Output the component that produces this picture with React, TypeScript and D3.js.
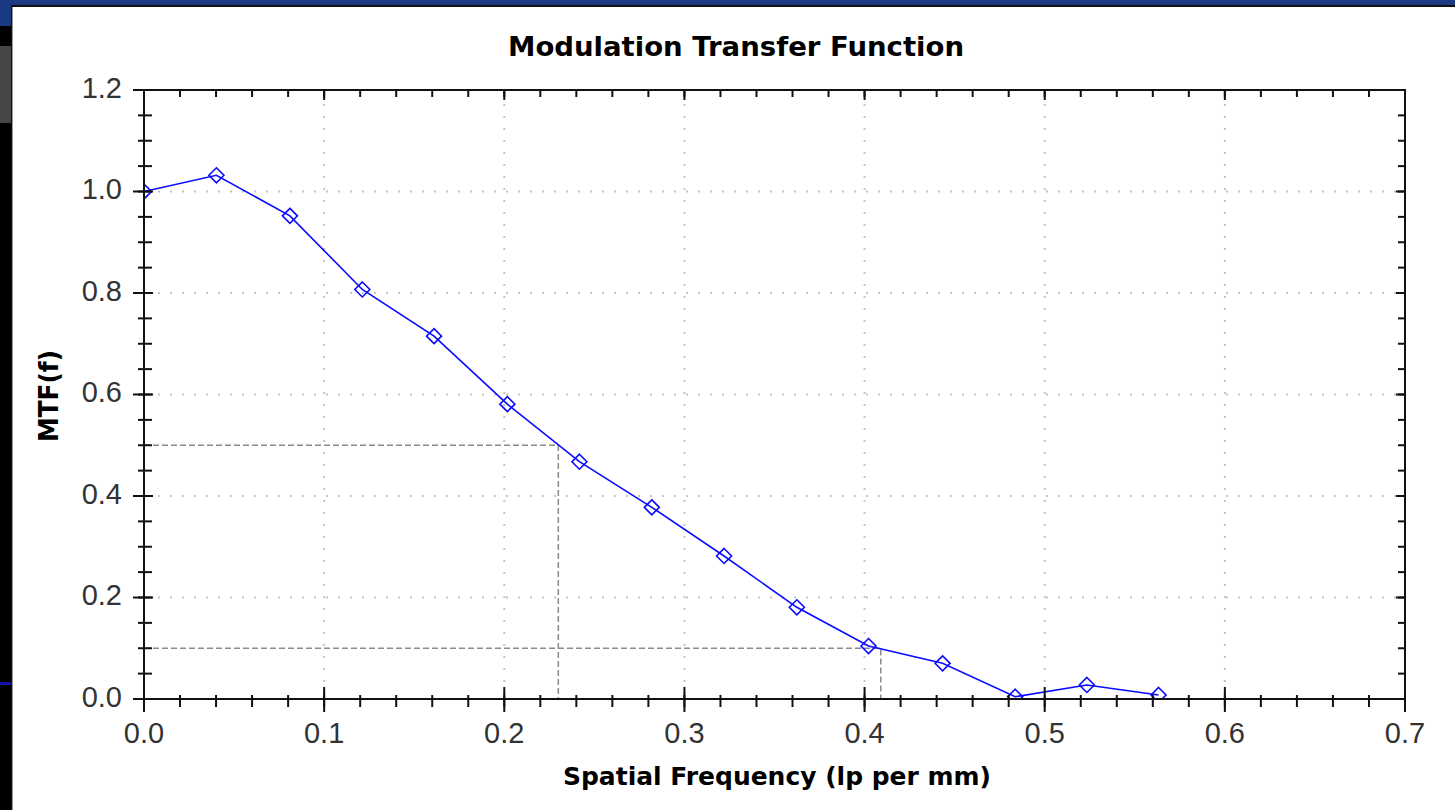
import React, { useEffect, useRef } from "react";
import * as d3 from "d3";

// ---- data ----
const freq = [0, 0.0402, 0.081, 0.1212, 0.161, 0.2017, 0.2417, 0.2819, 0.322, 0.3624, 0.4022, 0.4433, 0.4836, 0.5234, 0.5632];
const mtf = [1.0, 1.032, 0.952, 0.807, 0.715, 0.581, 0.4676, 0.3777, 0.2818, 0.1807, 0.1044, 0.0703, 0.0045, 0.0276, 0.0079];

const xTicks = [0, 0.1, 0.2, 0.3, 0.4, 0.5, 0.6, 0.7];
const xTickLabels = ["0.0", "0.1", "0.2", "0.3", "0.4", "0.5", "0.6", "0.7"];
const yTicks = [0, 0.2, 0.4, 0.6, 0.8, 1.0, 1.2];
const yTickLabels = ["0.0", "0.2", "0.4", "0.6", "0.8", "1.0", "1.2"];

const thresholds = [0.5, 0.1];
const crossFreq = [0.23, 0.409];

const title = "Modulation Transfer Function";
const xLabel = "Spatial Frequency (lp per mm)";
const yLabel = "MTF(f)";

const W = 1455;
const H = 810;

export default function App() {
  const ref = useRef<SVGSVGElement>(null);

  useEffect(() => {
    const svg = d3.select(ref.current);
    svg.selectAll("*").remove();

    const x = d3.scaleLinear().domain([0, 0.7]).range([144, 1405]);
    const y = d3.scaleLinear().domain([0, 1.2]).range([699, 90]);
    const [x0, x1] = x.range();
    const [y0, y1] = y.range(); // y0 bottom, y1 top

    // ---- frame / background ----
    svg.append("rect").attr("x", 0).attr("y", 0).attr("width", W).attr("height", H).attr("fill", "#ffffff");
    svg.append("rect").attr("x", 0).attr("y", 0).attr("width", W).attr("height", 5).attr("fill", "#1b3a84");
    svg.append("rect").attr("x", 11).attr("y", 5).attr("width", W - 11).attr("height", 2).attr("fill", "#111");
    svg.append("rect").attr("x", 0).attr("y", 0).attr("width", 11).attr("height", 26).attr("fill", "#1b3a84");
    svg.append("rect").attr("x", 0).attr("y", 26).attr("width", 11).attr("height", H - 26).attr("fill", "#000");
    svg.append("rect").attr("x", 0).attr("y", 46).attr("width", 11).attr("height", 77).attr("fill", "#464646");
    svg.append("rect").attr("x", 0).attr("y", 682).attr("width", 11).attr("height", 3).attr("fill", "#1212a6");
    svg.append("rect").attr("x", 11).attr("y", 5).attr("width", 1).attr("height", H - 5).attr("fill", "#111");
    svg.append("rect").attr("x", 12).attr("y", 7).attr("width", 1).attr("height", H - 7).attr("fill", "#9a9a9a");

    // ---- dotted grid ----
    const grid = svg.append("g").attr("stroke", "#c4c4c4").attr("stroke-width", 2).attr("stroke-dasharray", "2,10");
    xTicks.filter((t) => t > 0 && t < 0.7).forEach((t) => {
      grid.append("line").attr("x1", x(t)).attr("x2", x(t)).attr("y1", y1 + 2).attr("y2", y0);
    });
    yTicks.filter((t) => t > 0 && t < 1.2).forEach((t) => {
      grid.append("line").attr("x1", x0 + 2).attr("x2", x1).attr("y1", y(t)).attr("y2", y(t));
    });

    // ---- dashed threshold guides ----
    const guides = svg.append("g").attr("stroke", "#8a8a8a").attr("stroke-width", 1.5).attr("stroke-dasharray", "6,3").attr("fill", "none");
    thresholds.forEach((th, i) => {
      const fx = crossFreq[i];
      guides.append("path").attr("d", `M${x0},${y(th)}H${x(fx)}V${y0}`);
    });

    // ---- series ----
    const defs = svg.append("defs");
    defs.append("clipPath").attr("id", "plotClip")
      .append("rect").attr("x", x0).attr("y", y1).attr("width", x1 - x0).attr("height", y0 - y1);

    const series = svg.append("g").attr("clip-path", "url(#plotClip)");
    const pts = freq.map((f, i) => [f, mtf[i]] as [number, number]);
    const line = d3.line<[number, number]>().x((d) => x(d[0])).y((d) => y(d[1]));
    series.append("path").attr("d", line(pts) as string).attr("fill", "none").attr("stroke", "#0a0aff").attr("stroke-width", 1.6);
    series.selectAll("path.mk").data(pts).enter().append("path")
      .attr("class", "mk")
      .attr("transform", (d) => `translate(${x(d[0])},${y(d[1])})`)
      .attr("d", "M0,-7.5L7.5,0L0,7.5L-7.5,0Z")
      .attr("fill", "none")
      .attr("stroke", "#0a0aff")
      .attr("stroke-width", 1.6);

    // ---- plot box ----
    svg.append("rect").attr("x", x0).attr("y", y1).attr("width", x1 - x0).attr("height", y0 - y1)
      .attr("fill", "none").attr("stroke", "#111").attr("stroke-width", 2);

    // ---- ticks ----
    const tk = svg.append("g").attr("stroke", "#111").attr("stroke-width", 2);
    const xMinor = d3.range(0, 0.7001, 0.02);
    const yMinor = d3.range(0, 1.2001, 0.05);
    xMinor.forEach((t) => {
      tk.append("line").attr("x1", x(t)).attr("x2", x(t)).attr("y1", y0 - 4).attr("y2", y0 + 8);
      tk.append("line").attr("x1", x(t)).attr("x2", x(t)).attr("y1", y1).attr("y2", y1 + 7);
    });
    xTicks.forEach((t) => {
      tk.append("line").attr("x1", x(t)).attr("x2", x(t)).attr("y1", y0 - 12).attr("y2", y0 + 13);
      tk.append("line").attr("x1", x(t)).attr("x2", x(t)).attr("y1", y1).attr("y2", y1 + 10);
    });
    yMinor.forEach((t) => {
      tk.append("line").attr("x1", x0 - 6).attr("x2", x0 + 8).attr("y1", y(t)).attr("y2", y(t));
      tk.append("line").attr("x1", x1 - 7).attr("x2", x1).attr("y1", y(t)).attr("y2", y(t));
    });
    yTicks.forEach((t) => {
      tk.append("line").attr("x1", x0 - 11).attr("x2", x0 + 9).attr("y1", y(t)).attr("y2", y(t));
      tk.append("line").attr("x1", x1 - 9).attr("x2", x1).attr("y1", y(t)).attr("y2", y(t));
    });

    // ---- tick labels ----
    const tickFont = "'Liberation Sans', Arial, sans-serif";
    const boldFont = "'DejaVu Sans', Verdana, sans-serif";
    xTicks.forEach((t, i) => {
      svg.append("text").attr("x", x(t)).attr("y", 743).attr("text-anchor", "middle")
        .attr("font-family", tickFont).attr("font-size", 29).attr("fill", "#333")
        .text(xTickLabels[i]);
    });
    yTicks.forEach((t, i) => {
      svg.append("text").attr("x", 122).attr("y", y(t) + 7.5).attr("text-anchor", "end")
        .attr("font-family", tickFont).attr("font-size", 29).attr("fill", "#333")
        .text(yTickLabels[i]);
    });

    // ---- titles ----
    svg.append("text").attr("x", 508).attr("y", 56)
      .attr("font-family", boldFont).attr("font-weight", "bold").attr("font-size", 26.5).attr("fill", "#000")
      .attr("textLength", 456).attr("lengthAdjust", "spacingAndGlyphs")
      .text(title);
    svg.append("text").attr("x", 563).attr("y", 785)
      .attr("font-family", boldFont).attr("font-weight", "bold").attr("font-size", 24.5).attr("fill", "#000")
      .attr("textLength", 428).attr("lengthAdjust", "spacingAndGlyphs")
      .text(xLabel);
    svg.append("text").attr("transform", "translate(58,442) rotate(-90)")
      .attr("font-family", boldFont).attr("font-weight", "bold").attr("font-size", 26).attr("fill", "#000")
      .attr("textLength", 92).attr("lengthAdjust", "spacingAndGlyphs")
      .text(yLabel);
  }, []);

  return (
    <svg
      ref={ref}
      width={W}
      height={H}
      style={{ position: "absolute", left: 0, top: 0, display: "block" }}
    />
  );
}
